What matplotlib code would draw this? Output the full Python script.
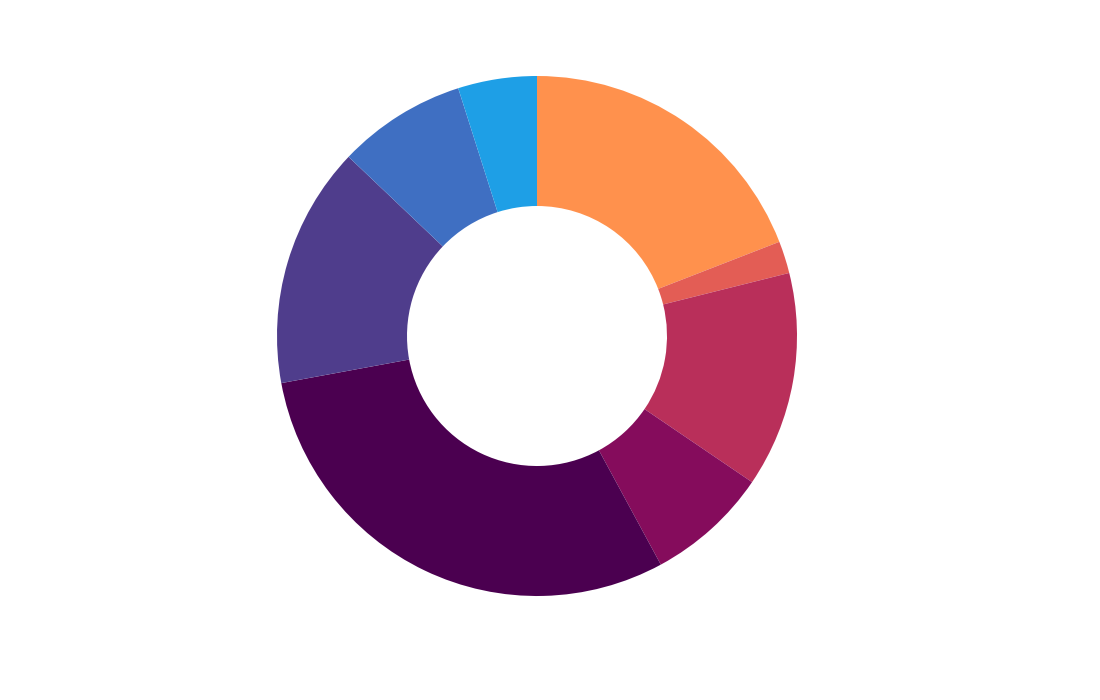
import matplotlib
matplotlib.use("Agg")
import matplotlib.pyplot as plt

# slice shares, clockwise from 12 o'clock
labels = ["A", "B", "C", "D", "E", "F", "G", "H"]
values = [19.1, 2.0, 13.4, 7.6, 30.0, 15.0, 8.0, 4.9]
colors = ["#FF914D", "#E35D55", "#B92F5A", "#850C5C",
          "#4B0050", "#4F3D8C", "#3F6FC2", "#1E9FE6"]

fig = plt.figure(figsize=(11, 7), dpi=100)
cx, cy, r = 537, 336, 260
ax = fig.add_axes([(cx - r) / 1100, (700 - cy - r) / 700, 2 * r / 1100, 2 * r / 700])

ax.pie(values, colors=colors, startangle=90, counterclock=False, radius=1.0,
       wedgeprops=dict(width=0.5, linewidth=0))
ax.set_xlim(-1, 1)
ax.set_ylim(-1, 1)
ax.set_aspect("equal")
ax.axis("off")

fig.savefig("out.png", dpi=100)
